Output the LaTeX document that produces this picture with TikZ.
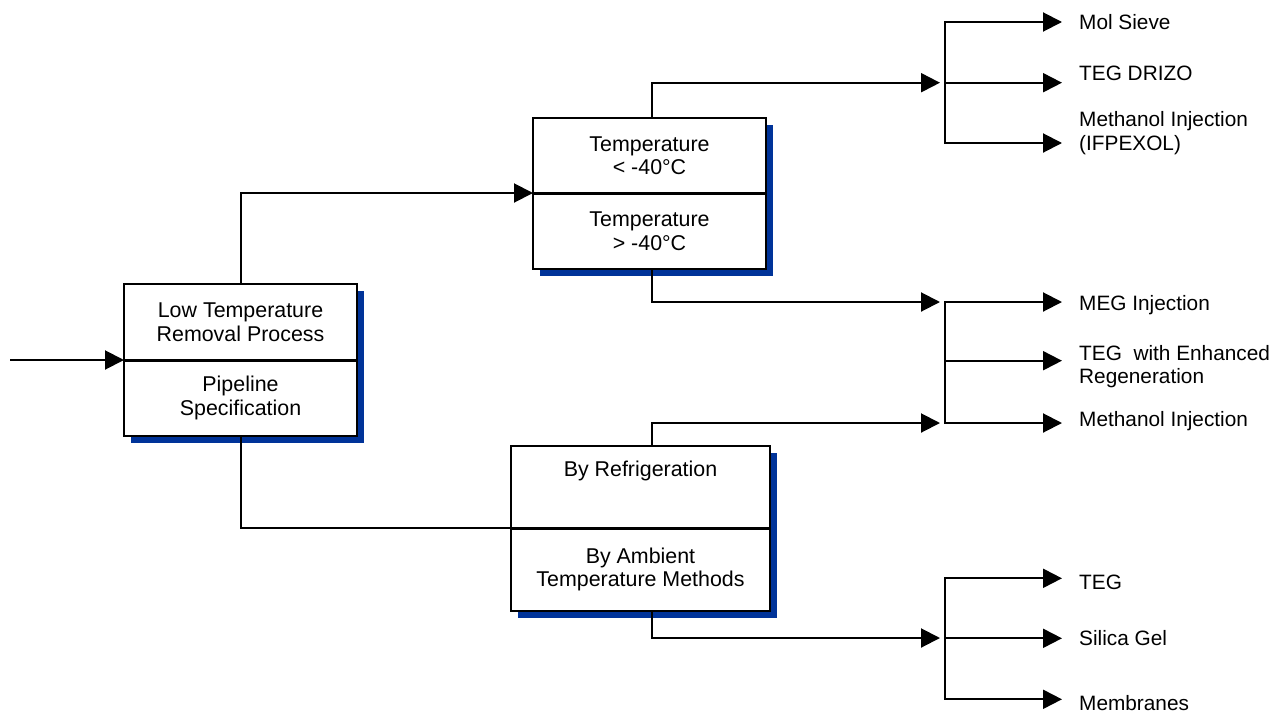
\documentclass[tikz,border=0pt]{standalone}
\usepackage{fontspec}
\setmainfont{Liberation Sans}
\usetikzlibrary{arrows.meta,calc}
\definecolor{shadowblue}{RGB}{0,51,153}
\begin{document}
\begin{tikzpicture}[x=1pt,y=-1pt,
  every node/.style={font=\fontsize{20.8}{23.5}\selectfont},
  comp/.style={draw=black,line width=2pt,fill=white,inner sep=0pt,outer sep=0pt,align=center,rectangle,font=\fontsize{21.4}{23.5}\selectfont},
  shadowbox/.style={fill=shadowblue},
  divider/.style={line width=3pt},
  conn/.style={line width=2pt},
  arr/.style={conn,-{Triangle[length=19pt,width=19pt]}},
  lab/.style={align=left,inner sep=0pt}
]
\useasboundingbox (0,0) rectangle (1284,712);
% shadows
\fill[shadowbox] (130.5,290.5) rectangle (363.5,442.5);
\fill[shadowbox] (539.5,124.5) rectangle (772.5,275.5);
\fill[shadowbox] (517.5,452.5) rectangle (776.5,617.5);
% boxes
\node[comp,minimum width=233pt,minimum height=76pt] (lt) at (240.5,322) {Low Temperature\\Removal Process};
\node[comp,minimum width=233pt,minimum height=76pt] (lb) at (240.5,398) {Pipeline\\Specification};
\node[comp,minimum width=233pt,minimum height=75pt] (ta) at (649.5,155.5) {Temperature\\< -40°C};
\node[comp,minimum width=233pt,minimum height=76pt] (tb) at (649.5,231) {Temperature\\> -40°C};
\node[comp,minimum width=259pt,minimum height=82pt] (ra) at (640.5,487) {};
\node[anchor=base,inner sep=0pt,font=\fontsize{21.4}{23.5}\selectfont] (ratext) at (640.5,476.7) {By Refrigeration};
\node[comp,minimum width=259pt,minimum height=83pt] (rb) at (640.5,569.5) {By Ambient\\Temperature Methods};
\draw[divider] (lt.south west) -- (lt.south east);
\draw[divider] (ta.south west) -- (ta.south east);
\draw[divider] (ra.south west) -- (ra.south east);
% coordinates
\coordinate (in) at (10,360);
\coordinate (cx) at (652,0);
\coordinate (jx) at (945,0);
\coordinate (j1) at (940,82.7);
\coordinate (j2a) at (940,302);
\coordinate (j2b) at (940,423);
\coordinate (j3) at (940,638);
\coordinate (b1a) at (1062,22);
\coordinate (b1b) at (1062,82.7);
\coordinate (b1c) at (1062,143);
\coordinate (b2a) at (1062,302);
\coordinate (b2b) at (1062,360.7);
\coordinate (b2c) at (1062,423);
\coordinate (b3a) at (1062,578.3);
\coordinate (b3b) at (1062,638.3);
\coordinate (b3c) at (1062,699.3);
% main connectors
\draw[arr] (in) -- (lt.south west);
\draw[arr] (lt.north) |- (ta.south west);
\draw[conn] (lb.south) |- (ra.south west);
\draw[arr] (ta.north -| cx) |- (j1);
\draw[arr] (tb.south -| cx) |- (j2a);
\draw[arr] (ra.north -| cx) |- (j2b);
\draw[arr] (rb.south -| cx) |- (j3);
% branches
\draw[arr] (b1b -| jx) |- (b1a);
\draw[arr] (b1b -| jx) |- (b1c);
\draw[arr] (b1b -| jx) -- (b1b);
\draw[arr] (b2b -| jx) |- (b2a);
\draw[arr] (b2b -| jx) |- (b2c);
\draw[arr] (b2b -| jx) -- (b2b);
\draw[arr] (b3b -| jx) |- (b3a);
\draw[arr] (b3b -| jx) |- (b3c);
\draw[arr] (b3b -| jx) -- (b3b);
% labels
\node[lab,anchor=base west] (l1) at (1079,29.3) {Mol Sieve};
\node[lab,anchor=base west] (l2) at (1079,80) {TEG DRIZO};
\node[lab,anchor=west] (l3) at (1079,133) {Methanol Injection\\(IFPEXOL)};
\node[lab,anchor=base west] (l4) at (1079,310) {MEG Injection};
\node[lab,anchor=west] (l5) at (1079,366.4) {TEG\ \ with Enhanced\\Regeneration};
\node[lab,anchor=base west] (l6) at (1079,426.7) {Methanol Injection};
\node[lab,anchor=base west] (l7) at (1079,589.3) {TEG};
\node[lab,anchor=base west] (l8) at (1079,645) {Silica Gel};
\node[lab,anchor=base west] (l9) at (1079,710) {Membranes};
\end{tikzpicture}
\end{document}
